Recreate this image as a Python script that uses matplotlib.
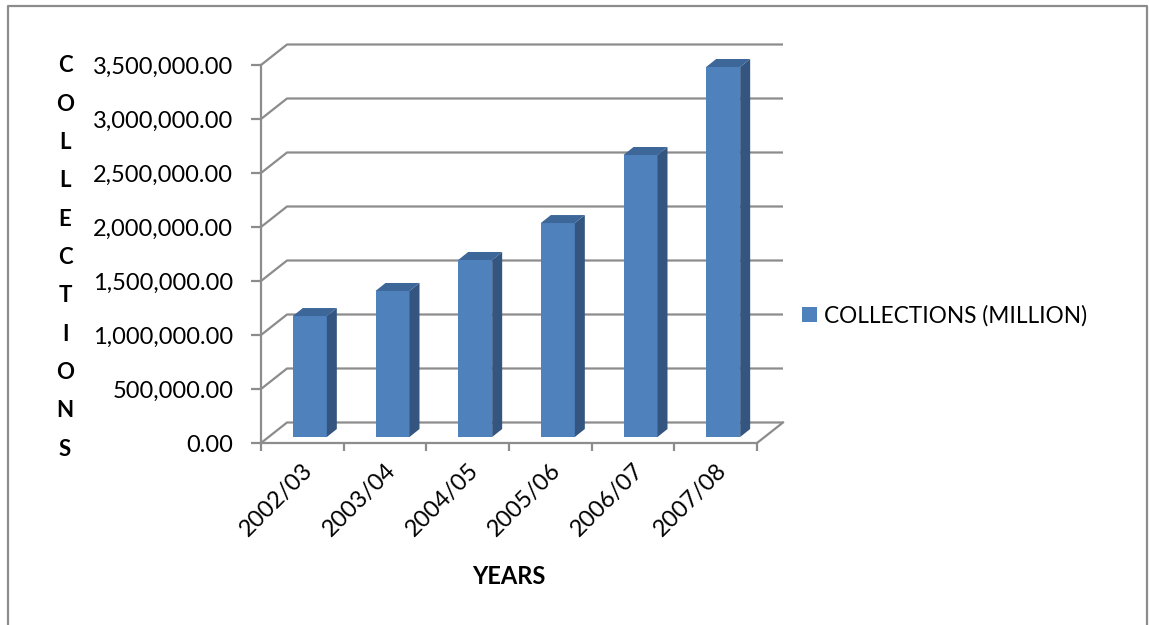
import matplotlib
matplotlib.use("Agg")
import matplotlib.pyplot as plt
from matplotlib.patches import Polygon, Patch
from matplotlib.lines import Line2D
from matplotlib.ticker import FuncFormatter, MultipleLocator

# ---- data ----
years = ["2002/03", "2003/04", "2004/05", "2005/06", "2006/07", "2007/08"]
collections = [1120000, 1352000, 1639000, 1981000, 2611000, 3426000]
series_name = "COLLECTIONS (MILLION)"
y_title = "COLLECTIONS"
x_title = "YEARS"
y_max = 3500000
y_step = 500000

# ---- style ----
FONT = "Lato"
FRONT = "#4F81BD"
SIDE = "#34557f"
TOP = "#3d6699"
GRID = "#8c8c8c"
W, H = 1149, 625

plt.rcParams["font.family"] = [FONT, "DejaVu Sans"]

fig = plt.figure(figsize=(W / 100, H / 100), dpi=100)
fig.patch.set_facecolor("white")

# plot area (front plane)
ax_l, ax_r, ax_b, ax_t = 261, 757, 443, 65
ax = fig.add_axes([ax_l / W, (H - ax_b) / H, (ax_r - ax_l) / W, (ax_b - ax_t) / H])
n = len(years)
ax.set_xlim(-0.5, n - 0.5)
ax.set_ylim(0, y_max)
ax.set_facecolor("none")

px_x = (ax_r - ax_l) / n          # pixels per category unit
px_y = (ax_b - ax_t) / y_max      # pixels per value unit

# 3-D depth offsets (pixels -> data units)
DX, DY = 26 / px_x, 20.5 / px_y           # full wall depth
BDX, BDY = 7.5 / px_x, 6 / px_y           # bar front plane offset
DDX, DDY = 10 / px_x, 8 / px_y            # bar depth
BW = 34 / px_x                            # bar width

# back wall gridlines (with diagonal on the side wall)
ticks = list(range(0, y_max + 1, y_step))
for v in ticks:
    ax.plot([-0.5, -0.5 + DX, n - 0.5 + DX], [v, v + DY, v + DY],
            color=GRID, lw=1.6, clip_on=False, zorder=1, solid_capstyle="butt")
# floor right edge
ax.plot([n - 0.5, n - 0.5 + DX], [0, DY], color=GRID, lw=1.6, clip_on=False, zorder=1)

# bars
xs = [i + BDX for i in range(n)]
ax.bar(xs, collections, width=BW, bottom=BDY, color=FRONT, zorder=3,
       edgecolor="none")
for x, v in zip(xs, collections):
    xl, xr = x - BW / 2, x + BW / 2
    top = v + BDY
    side = Polygon([(xr, BDY), (xr + DDX, BDY + DDY), (xr + DDX, top + DDY), (xr, top)],
                   closed=True, facecolor=SIDE, edgecolor="none", zorder=3, clip_on=False)
    topf = Polygon([(xl, top), (xl + DDX, top + DDY), (xr + DDX, top + DDY), (xr, top)],
                   closed=True, facecolor=TOP, edgecolor="none", zorder=3, clip_on=False)
    ax.add_patch(side)
    ax.add_patch(topf)

# spines
for s in ("top", "right"):
    ax.spines[s].set_visible(False)
for s in ("left", "bottom"):
    ax.spines[s].set_color(GRID)
    ax.spines[s].set_linewidth(1.6)
    ax.spines[s].set_zorder(4)

# y axis
ax.yaxis.set_major_locator(MultipleLocator(y_step))
ax.yaxis.set_major_formatter(FuncFormatter(lambda v, p: f"{v:,.2f}"))
ax.tick_params(axis="y", which="major", direction="out", length=7, width=1.6,
               color=GRID, pad=13, labelsize=17, labelcolor="black")

# x axis: boundary ticks, labels at category centres
ax.set_xticks([i - 0.5 for i in range(n + 1)])
ax.set_xticklabels([])
ax.tick_params(axis="x", which="major", direction="out", length=6, width=1.6, color=GRID)
ax.set_xticks(list(range(n)), minor=True)
ax.set_xticklabels(years, minor=True, rotation=45, ha="right", va="top",
                   rotation_mode="anchor", fontsize=17)
ax.tick_params(axis="x", which="minor", length=0, pad=12)

# axis titles
fig.text(65 / W, 1 - 257.5 / H, "\n".join(list(y_title)), ha="center", va="center",
         fontsize=16, fontweight="bold", linespacing=2.02)
fig.text(509 / W, 1 - 576 / H, x_title, ha="center", va="center",
         fontsize=17, fontweight="bold")

# legend
ax.legend(handles=[Patch(facecolor=FRONT, edgecolor="none")], labels=[series_name],
          loc="center left", bbox_to_anchor=(802 / W, 1 - 316 / H),
          bbox_transform=fig.transFigure, frameon=False, borderpad=0,
          borderaxespad=0, handlelength=0.66, handleheight=0.66,
          handletextpad=0.3, fontsize=16.3)

# chart frame
fig.add_artist(Line2D([8 / W, 8 / W, 1147 / W, 1147 / W], [0, 1 - 6 / H, 1 - 6 / H, 0],
                      transform=fig.transFigure, color=GRID, lw=1.6))

fig.savefig("out.png", dpi=100)
